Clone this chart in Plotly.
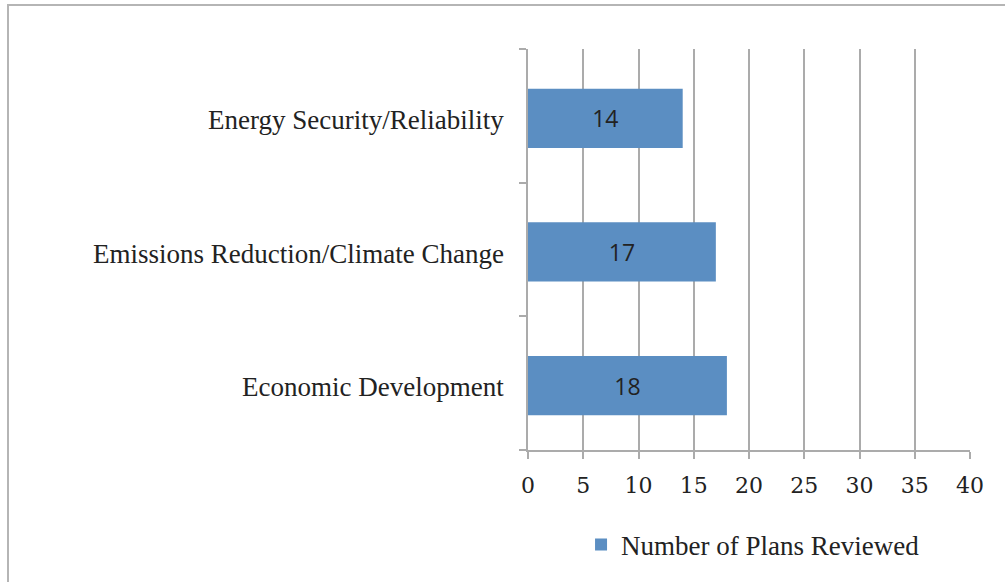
import plotly.graph_objects as go

categories = ["Economic Development", "Emissions Reduction/Climate Change", "Energy Security/Reliability"]
values = [18, 17, 14]
series_name = "Number of Plans Reviewed"
x_ticks = [0, 5, 10, 15, 20, 25, 30, 35, 40]

BAR = "#5B8EC2"
GRID = "#ABABAB"

fig = go.Figure()
fig.add_trace(go.Bar(
    y=categories, x=values, orientation="h", name=series_name,
    marker=dict(color=BAR, line=dict(width=0)),
    width=0.443, offset=-0.24,
    text=[str(v) for v in values], textposition="inside", insidetextanchor="middle",
    textfont=dict(family="Open Sans", size=23, color="#222222"),
    showlegend=True,
))

annotations = [dict(x=0, xref="paper", y=c, yref="y", text=c, showarrow=False,
                    xanchor="right", yanchor="middle", xshift=-22, yshift=-4,
                    font=dict(family="Liberation Serif", size=27, color="#222222"))
               for c in categories]

fig.update_layout(
    width=1005, height=582,
    margin=dict(l=528, r=35, t=49, b=132),
    paper_bgcolor="white", plot_bgcolor="white",
    font=dict(family="Liberation Serif", color="#222222"),
    xaxis=dict(range=[0, 40], tickvals=x_ticks, showgrid=True, gridcolor=GRID, gridwidth=2,
               showline=True, linecolor=GRID, linewidth=2, ticks="outside", ticklen=7,
               tickcolor=GRID, tickwidth=2, zeroline=False, ticklabelstandoff=8,
               tickfont=dict(family="DejaVu Serif", size=22, color="#222222")),
    yaxis=dict(showline=True, linecolor=GRID, linewidth=2, ticks="outside", ticklen=7,
               tickcolor=GRID, tickwidth=2, tickson="boundaries", showgrid=False,
               showticklabels=False),
    legend=dict(orientation="h", x=0.12, xanchor="left", y=-0.237, yanchor="middle",
                font=dict(family="Liberation Serif", size=27, color="#222222")),
    annotations=annotations,
    shapes=[dict(type="rect", xref="paper", yref="paper",
                 x0=(8 - 528) / 442, x1=2, y0=-1, y1=(450 - 5) / 401,
                 line=dict(color="#B5B5B5", width=2), fillcolor="rgba(0,0,0,0)", layer="below")],
)

fig.write_html("out.html")
